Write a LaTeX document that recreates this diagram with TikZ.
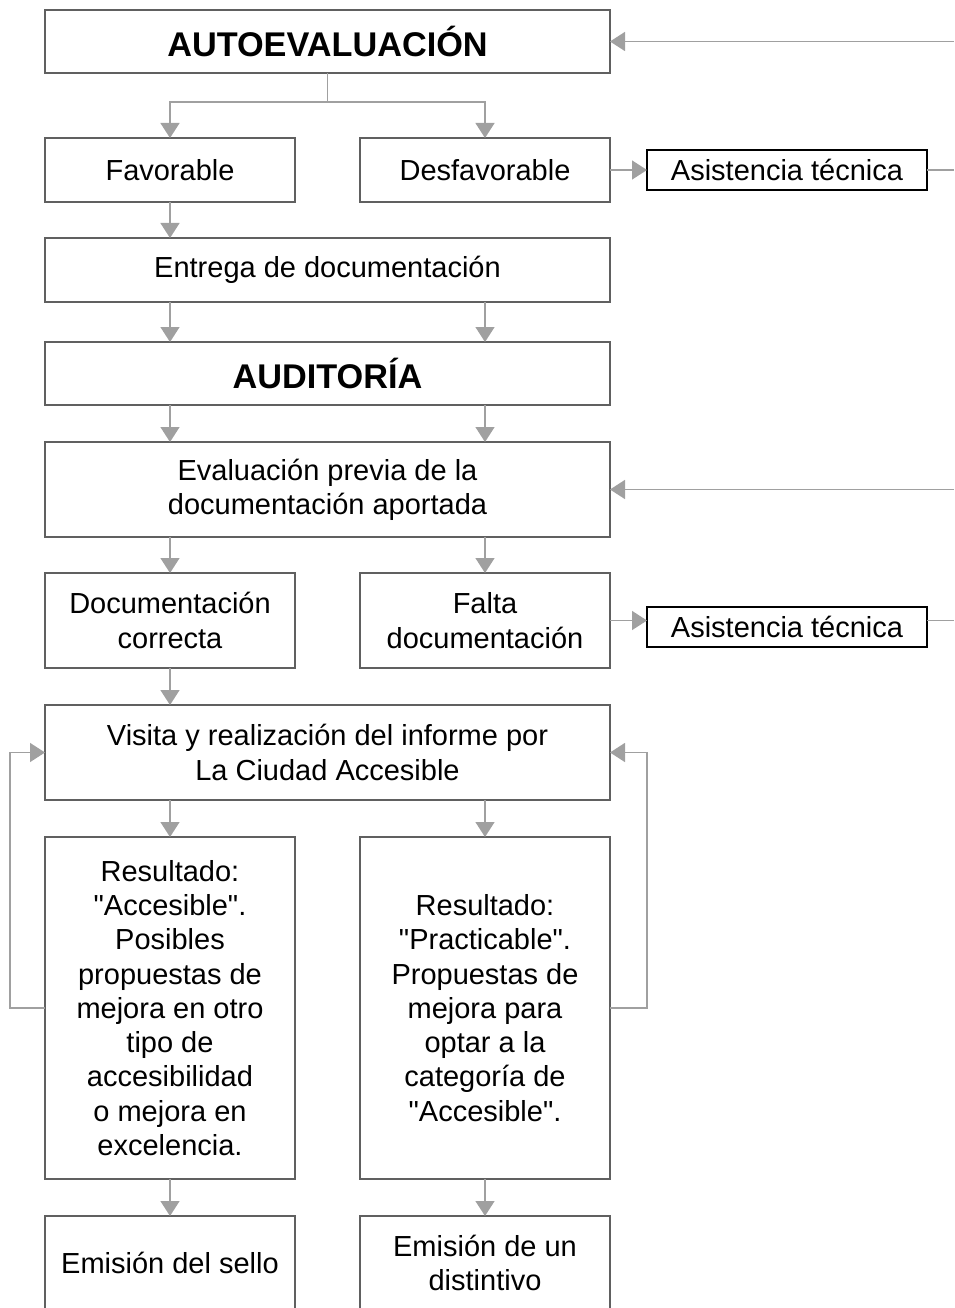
\documentclass[tikz,border=0pt]{standalone}
\usepackage{fontspec}
\setmainfont{Liberation Sans}
\usetikzlibrary{positioning,arrows.meta}
\definecolor{boxline}{HTML}{606060}
\definecolor{arrline}{HTML}{A0A0A0}
\tikzset{
  flarr/.style={-{Triangle[length=3mm,width=3.8mm]},arrline,line width=0.8pt},
  flline/.style={arrline,line width=0.8pt},
  wide/.style={draw=boxline,line width=0.8pt,align=center,minimum width=11.3cm,outer sep=0pt,
               inner sep=0pt,font=\fontsize{16.5}{19.5}\selectfont},
  half/.style={draw=boxline,line width=0.8pt,align=center,minimum width=5cm,outer sep=0pt,
               inner sep=0pt,font=\fontsize{16.5}{19.5}\selectfont},
  helpbox/.style={draw=black,line width=0.8pt,align=center,minimum width=5.6cm,outer sep=0pt,
                  minimum height=0.8cm,inner sep=0pt,font=\fontsize{16.5}{19.5}\selectfont},
  titlefont/.style={font=\fontsize{19.5}{23}\selectfont\bfseries}
}

\begin{document}
\begin{tikzpicture}
\useasboundingbox (0,0) rectangle (19.08,-26.16);
\coordinate (rim) at (19.08,0);

\node[wide, titlefont, minimum height=1.26cm] (auto) at (6.55,-0.83) {AUTOEVALUACIÓN};
\node[half, minimum height=1.28cm, below=1.3cm of auto.south west, anchor=north west] (fav) {Favorable};
\node[half, minimum height=1.28cm, right=1.3cm of fav] (desf) {Desfavorable};
\node[helpbox, right=0.74cm of desf] (asis1) {Asistencia técnica};
\node[wide, minimum height=1.28cm, below=0.72cm of fav.south west, anchor=north west] (entrega) {Entrega de documentación};
\node[wide, titlefont, minimum height=1.26cm, below=0.8cm of entrega] (audit) {AUDITORÍA};
\node[wide, minimum height=1.9cm, below=0.74cm of audit] (eval) {Evaluación previa de la\\documentación aportada};
\node[half, minimum height=1.9cm, below=0.72cm of eval.south west, anchor=north west] (doc) {Documentación\\correcta};
\node[half, minimum height=1.9cm, right=1.3cm of doc] (falta) {Falta\\documentación};
\node[helpbox, right=0.74cm of falta, yshift=-0.13cm] (asis2) {Asistencia técnica};
\node[wide, minimum height=1.9cm, below=0.74cm of doc.south west, anchor=north west] (visita) {Visita y realización del informe por\\La Ciudad Accesible};
\node[half, minimum height=6.84cm, below=0.74cm of visita.south west, anchor=north west] (res1)
  {Resultado:\\\textquotedbl Accesible\textquotedbl.\\Posibles\\propuestas de\\mejora en otro\\tipo de\\accesibilidad\\o mejora en\\excelencia.};
\node[half, minimum height=6.84cm, right=1.3cm of res1] (res2)
  {Resultado:\\\textquotedbl Practicable\textquotedbl.\\Propuestas de\\mejora para\\optar a la\\categoría de\\\textquotedbl Accesible\textquotedbl.};
\node[half, minimum height=1.88cm, below=0.74cm of res1] (emi1) {Emisión del sello};
\node[half, minimum height=1.88cm, below=0.74cm of res2] (emi2) {Emisión de un\\distintivo};

% autoevaluacion
\draw[flarr] (auto.south) -- ++(0,-0.58) -| (fav.north);
\draw[flarr] (auto.south) -- ++(0,-0.58) -| (desf.north);
\draw[flarr] (rim |- auto.east) -- (auto.east);
\draw[flarr] (desf) -- (asis1);
\draw[flline] (asis1) -- (rim |- asis1.east);
\draw[flarr] (fav.south) -- (fav.south |- entrega.north);
\foreach \c in {fav,desf} {
  \draw[flarr] (entrega.south -| \c) -- (audit.north -| \c);
  \draw[flarr] (audit.south -| \c) -- (eval.north -| \c);
}

% auditoria
\draw[flarr] (rim |- eval.east) -- (eval.east);
\draw[flarr] (eval.south -| doc) -- (doc.north);
\draw[flarr] (eval.south -| falta) -- (falta.north);
\draw[flarr] (falta.east) -- (falta.east -| asis2.west);
\draw[flline] (falta.east -| asis2.east) -- (rim |- falta.east);
\draw[flarr] (doc.south) -- (doc.south |- visita.north);
\foreach \c in {res1,res2} \draw[flarr] (visita.south -| \c) -- (\c.north);
\draw[flarr] (res1.west) -- ++(-0.7,0) |- (visita.west);
\draw[flarr] (res2.east) -- ++(0.74,0) |- (visita.east);
\draw[flarr] (res1) -- (emi1);
\draw[flarr] (res2) -- (emi2);
\end{tikzpicture}
\end{document}
